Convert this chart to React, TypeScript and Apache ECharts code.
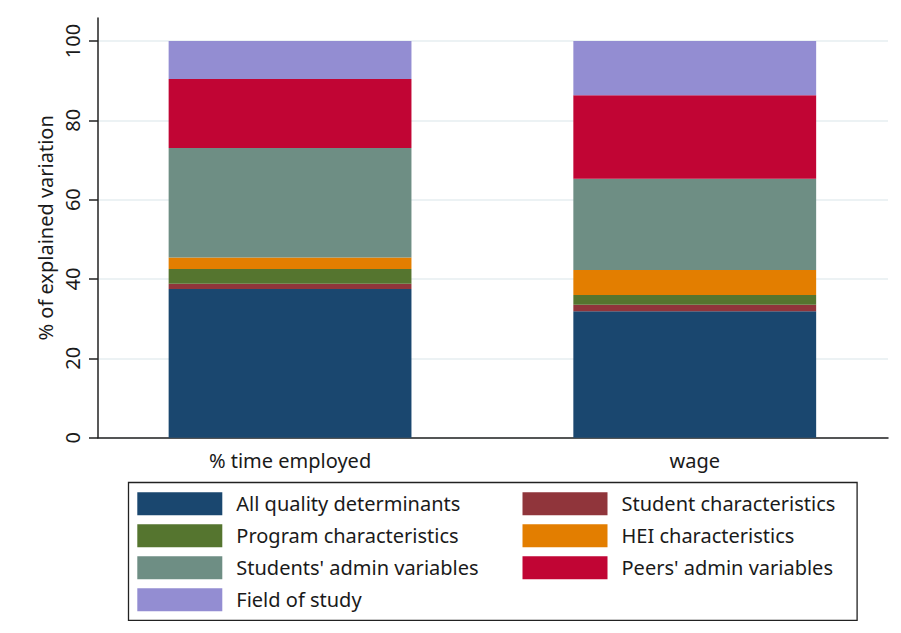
import React, { useEffect, useRef } from "react";
import * as echarts from "echarts";

const categories = ["% time employed", "wage"];
const seriesNames = [
  "All quality determinants",
  "Student characteristics",
  "Program characteristics",
  "HEI characteristics",
  "Students' admin variables",
  "Peers' admin variables",
  "Field of study",
];
const allQuality = [37.5, 31.9];
const studentChar = [1.3, 1.6];
const programChar = [3.7, 2.5];
const heiChar = [2.9, 6.3];
const studentsAdmin = [27.6, 23.0];
const peersAdmin = [17.4, 21.0];
const fieldOfStudy = [9.6, 13.7];
const yTicks = [0, 20, 40, 60, 80, 100];
const colors = ["#1a476f", "#90353b", "#55752f", "#e37e00", "#6e8e84", "#c10534", "#938dd2"];

const seriesValues = [allQuality, studentChar, programChar, heiChar, studentsAdmin, peersAdmin, fieldOfStudy];
const legendCol1 = [seriesNames[0], seriesNames[2], seriesNames[4], seriesNames[6]];
const legendCol2 = [seriesNames[1], seriesNames[3], seriesNames[5]];

const FONT = "Noto Sans";

export default function App() {
  const ref = useRef<HTMLDivElement>(null);
  useEffect(() => {
    if (!ref.current) return;
    const chart = echarts.init(ref.current, null, { renderer: "svg" });
    const bottom = 633 - 437.7;
    const legendCommon = {
      orient: "vertical",
      padding: 0,
      itemWidth: 85,
      itemHeight: 23,
      itemGap: 9,
      icon: "rect",
      selectedMode: false,
      textStyle: { fontFamily: FONT, fontSize: 20, color: "#1a1a1a", padding: [0, 0, 0, 9], lineHeight: 23 },
    };
    chart.setOption({
      animation: false,
      backgroundColor: "#ffffff",
      textStyle: { fontFamily: FONT },
      grid: [
        { left: 98, right: 13, top: 41, bottom },
        { left: 98, right: 13, top: 18, bottom },
        { left: 87.7, right: 3.9, top: 41, bottom },
      ],
      xAxis: [
        { gridIndex: 0, type: "value", show: false, min: 0, max: 1 },
        {
          gridIndex: 1,
          type: "value",
          min: 0,
          max: 1,
          axisLine: { show: true, lineStyle: { color: "#222", width: 1.5 } },
          axisTick: { show: false },
          axisLabel: { show: false },
          splitLine: { show: false },
        },
        {
          gridIndex: 2,
          type: "category",
          data: categories,
          axisLine: { show: false },
          axisTick: { show: false },
          axisLabel: { fontFamily: FONT, fontSize: 20, color: "#1a1a1a", margin: 13 },
        },
      ],
      yAxis: [
        {
          gridIndex: 0,
          type: "value",
          min: yTicks[0],
          max: yTicks[yTicks.length - 1],
          interval: 20,
          axisLine: { show: false },
          axisTick: { show: true, length: 9, lineStyle: { color: "#222", width: 1.5 } },
          axisLabel: { rotate: 90, margin: 16, fontFamily: FONT, fontSize: 20, color: "#1a1a1a" },
          splitLine: { show: true, lineStyle: { color: "#e6eef0", width: 1.5 } },
        },
        {
          gridIndex: 1,
          type: "value",
          min: 0,
          max: 105.8,
          axisLine: { show: true, lineStyle: { color: "#222", width: 1.5 } },
          axisTick: { show: false },
          axisLabel: { show: false },
          splitLine: { show: false },
          name: "% of explained variation",
          nameLocation: "middle",
          nameGap: 43,
          nameTextStyle: { fontFamily: FONT, fontSize: 20, color: "#1a1a1a" },
        },
        { gridIndex: 2, type: "value", min: 0, max: 100, show: false },
      ],
      legend: [
        { ...legendCommon, left: 137.3, top: 492.3, data: legendCol1 },
        { ...legendCommon, left: 522.5, top: 492.3, data: legendCol2 },
      ],
      graphic: [
        {
          type: "rect",
          shape: { x: 128.5, y: 482.5, width: 728.6, height: 137.8 },
          style: { fill: "none", stroke: "#222", lineWidth: 1.3 },
        },
      ],
      series: seriesNames.map((name, i) => ({
        name,
        type: "bar",
        stack: "total",
        xAxisIndex: 2,
        yAxisIndex: 2,
        barWidth: "60%",
        itemStyle: { color: colors[i] },
        data: seriesValues[i],
      })),
    });
    return () => chart.dispose();
  }, []);
  return <div ref={ref} style={{ width: 901, height: 633, position: "absolute", left: 0, top: 0 }} />;
}
